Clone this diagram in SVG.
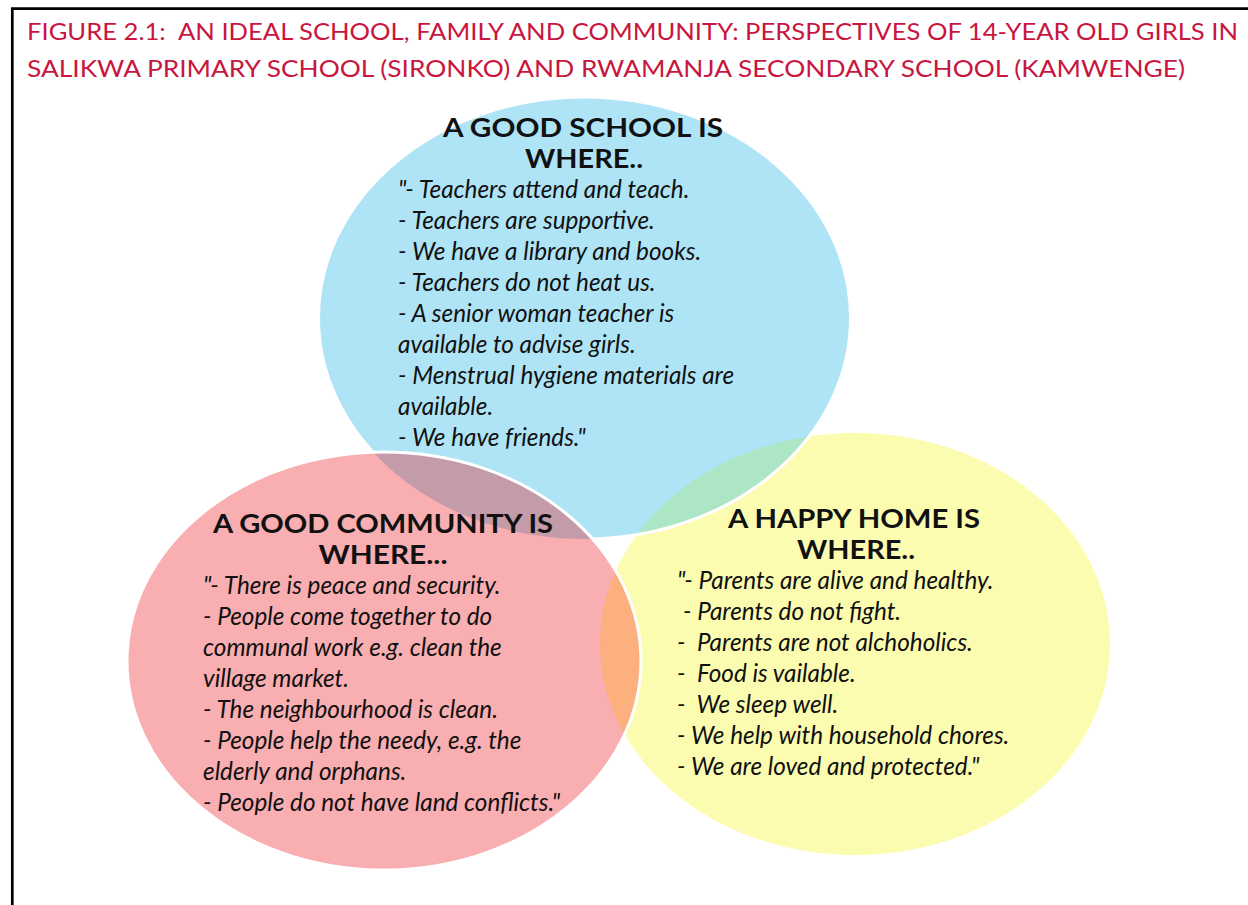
<svg xmlns="http://www.w3.org/2000/svg" width="1248" height="905" viewBox="0 0 1248 905">
  <defs>
    <style>
      .title { font-family: Lato, "Liberation Sans", sans-serif; font-size: 24px; fill: #c8163f; }
      .head { font-family: Lato, "Liberation Sans", sans-serif; font-weight: 700; font-size: 26px; fill: #111; text-anchor: middle; }
      .body { font-family: Lato, "Liberation Sans", sans-serif; font-style: italic; font-size: 24.3px; fill: #111; }
      .ring { fill: none; stroke: #fff; stroke-width: 3; }
    </style>
    <clipPath id="clipSchool"><ellipse cx="584.5" cy="318" rx="266" ry="221"/></clipPath>
    <clipPath id="clipHome"><ellipse cx="855" cy="644" rx="255" ry="211"/></clipPath>
  </defs>

  <rect width="1248" height="905" fill="#fff"/>
  <!-- frame -->
  <path d="M12.3 905 V8.7 H1248" fill="none" stroke="#000" stroke-width="2.7"/>

  <!-- title -->
  <g id="title">
    <text class="title" x="27" y="40" textLength="1211" lengthAdjust="spacingAndGlyphs" xml:space="preserve">FIGURE 2.1:  AN IDEAL SCHOOL, FAMILY AND COMMUNITY: PERSPECTIVES OF 14-YEAR OLD GIRLS IN</text>
    <text class="title" x="27" y="77" textLength="1158" lengthAdjust="spacingAndGlyphs">SALIKWA PRIMARY SCHOOL (SIRONKO) AND RWAMANJA SECONDARY SCHOOL (KAMWENGE)</text>
  </g>

  <!-- circles and their overlaps -->
  <g id="circles">
    <ellipse id="home-fill" cx="855" cy="644" rx="255" ry="211" fill="#fcfcb0"/>
    <ellipse id="school-fill" cx="584.5" cy="318" rx="266" ry="221" fill="#afe4f6"/>
    <ellipse cx="584.5" cy="318" rx="266" ry="221" fill="#ade6c4" clip-path="url(#clipHome)"/>
    <ellipse class="ring" cx="584.5" cy="318" rx="266" ry="221"/>
    <ellipse id="community-fill" cx="384" cy="661" rx="257" ry="209" fill="#f9aeb1"/>
    <ellipse cx="384" cy="661" rx="257" ry="209" fill="#c49ba9" clip-path="url(#clipSchool)"/>
    <ellipse cx="384" cy="661" rx="257" ry="209" fill="#fbb07e" clip-path="url(#clipHome)"/>
    <ellipse class="ring" cx="384" cy="661" rx="257" ry="209"/>
  </g>

  <g id="school">
    <text class="head" x="583" y="137" textLength="280" lengthAdjust="spacingAndGlyphs">A GOOD SCHOOL IS</text>
    <text class="head" x="584" y="168" textLength="118" lengthAdjust="spacingAndGlyphs">WHERE..</text>
    <text class="body" x="398" y="198">"- Teachers attend and teach.</text>
    <text class="body" x="398" y="229">- Teachers are supportive.</text>
    <text class="body" x="398" y="260">- We have a library and books.</text>
    <text class="body" x="398" y="291">- Teachers do not heat us.</text>
    <text class="body" x="398" y="322">- A senior woman teacher is</text>
    <text class="body" x="398" y="353">available to advise girls.</text>
    <text class="body" x="398" y="384">- Menstrual hygiene materials are</text>
    <text class="body" x="398" y="415">available.</text>
    <text class="body" x="398" y="446">- We have friends."</text>
  </g>

  <g id="community">
    <text class="head" x="383" y="533" textLength="340" lengthAdjust="spacingAndGlyphs">A GOOD COMMUNITY IS</text>
    <text class="head" x="383" y="564" textLength="129" lengthAdjust="spacingAndGlyphs">WHERE...</text>
    <text class="body" x="203" y="594">"- There is peace and security.</text>
    <text class="body" x="203" y="625">- People come together to do</text>
    <text class="body" x="203" y="656">communal work e.g. clean the</text>
    <text class="body" x="203" y="687">village market.</text>
    <text class="body" x="203" y="718">- The neighbourhood is clean.</text>
    <text class="body" x="203" y="749">- People help the needy, e.g. the</text>
    <text class="body" x="203" y="780">elderly and orphans.</text>
    <text class="body" x="203" y="811">- People do not have land conflicts."</text>
  </g>

  <g id="home">
    <text class="head" x="854" y="528" textLength="252" lengthAdjust="spacingAndGlyphs">A HAPPY HOME IS</text>
    <text class="head" x="856" y="559" textLength="118" lengthAdjust="spacingAndGlyphs">WHERE..</text>
    <text class="body" x="677" y="589">"- Parents are alive and healthy.</text>
    <text class="body" x="683" y="620">- Parents do not fight.</text>
    <text class="body" x="677" y="651" xml:space="preserve">-  Parents are not alchoholics.</text>
    <text class="body" x="677" y="682" xml:space="preserve">-  Food is vailable.</text>
    <text class="body" x="677" y="713" xml:space="preserve">-  We sleep well.</text>
    <text class="body" x="677" y="744">- We help with household chores.</text>
    <text class="body" x="677" y="775">- We are loved and protected."</text>
  </g>
</svg>
